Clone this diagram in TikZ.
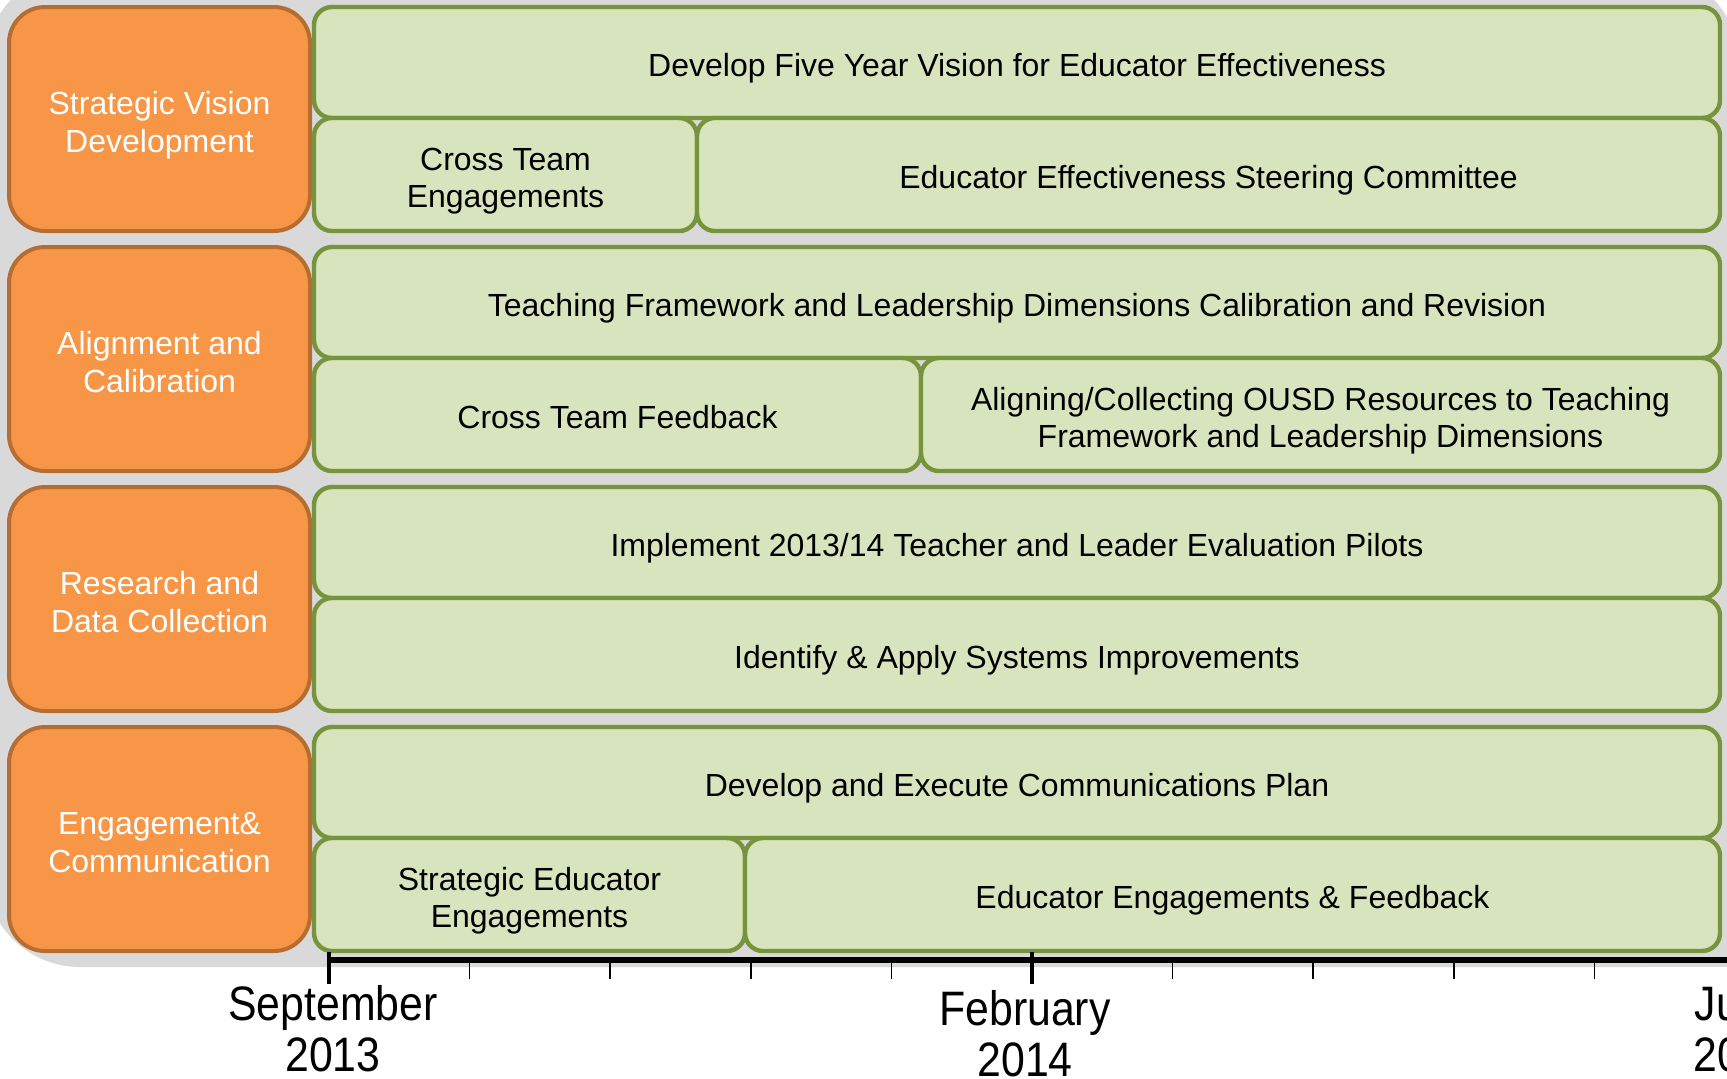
\documentclass[tikz,border=0pt]{standalone}
\usepackage{fontspec}
\setmainfont{Liberation Sans}
\definecolor{bggray}{HTML}{D9D9D9}
\definecolor{orfill}{HTML}{F79646}
\definecolor{ordraw}{HTML}{B66D31}
\definecolor{grfill}{HTML}{D7E4BD}
\definecolor{grdraw}{HTML}{77933C}
\newcommand\sx{\rule[-0.2em]{0pt}{1.3em}}
\newcommand\ex{\rule[-0.2em]{0pt}{0.5em}}
\begin{document}
\begin{tikzpicture}[x=0.5pt,y=-0.5pt,
  boxtext/.style={align=center, inner sep=0pt, font=\fontsize{16}{18.75}\selectfont},
  cat/.style={boxtext, draw=ordraw, fill=orfill, line width=2pt, rounded corners=18pt, text=white, minimum width=150.5pt, minimum height=112pt},
  task/.style={boxtext, draw=grdraw, fill=grfill, line width=2.2pt, rounded corners=9pt, text=black},
  full/.style={task, minimum width=703pt},
  tophalf/.style={minimum height=55.5pt},
  bothalf/.style={minimum height=56.5pt},
  majortick/.style={line width=2.2pt},
  minortick/.style={line width=0.8pt},
  axis/.style={line width=2.6pt},
  datelabel/.style={inner sep=0pt, font=\fontsize{21.4}{22.5}\selectfont}
]
\useasboundingbox (0,0) rectangle (1727,1078);
\clip (0,0) rectangle (1727,1078);
% gray backdrop
\fill[bggray, rounded corners=47.5pt] (-15,-30) rectangle (1740,967);
\fill[bggray] (1500,600) rectangle (1760,967);

% category boxes
\node[cat] (c1) at (159.5,119) {\sx Strategic Vision\\Development\ex};
\node[cat] (c2) at (159.5,359) {\sx Alignment and\\Calibration\ex};
\node[cat] (c3) at (159.5,599) {\sx Research and\\Data Collection\ex};
\node[cat] (c4) at (159.5,839) {\sx Engagement\&\\Communication\ex};

% row 1
\node[full, tophalf] (r1a) at (1017,62.5) {\sx Develop Five Year Vision for Educator Effectiveness};
\node[task, bothalf, minimum width=191.5pt] (r1b) at (505.5,174.5) {\sx Cross Team\\Engagements\ex};
\node[task, bothalf, minimum width=511.5pt] (r1c) at (1208.5,174.5) {\sx Educator Effectiveness Steering Committee};
% row 2
\node[full, tophalf] (r2a) at (1017,302.5) {\sx Teaching Framework and Leadership Dimensions Calibration and Revision};
\node[task, bothalf, minimum width=303.5pt] (r2b) at (617.5,414.5) {\sx Cross Team Feedback};
\node[task, bothalf, minimum width=399.5pt] (r2c) at (1320.5,414.5) {\sx Aligning/Collecting OUSD Resources to Teaching\\Framework and Leadership Dimensions\ex};
% row 3
\node[full, tophalf] (r3a) at (1017,542.5) {\sx Implement 2013/14 Teacher and Leader Evaluation Pilots};
\node[full, bothalf] (r3b) at (1017,654.5) {\sx Identify \& Apply Systems Improvements};
% row 4
\node[full, tophalf] (r4a) at (1017,782.5) {\sx Develop and Execute Communications Plan};
\node[task, bothalf, minimum width=215.5pt] (r4b) at (529.5,894.5) {\sx Strategic Educator\\Engagements\ex};
\node[task, bothalf, minimum width=487.5pt] (r4c) at (1232.5,894.5) {\sx Educator Engagements \& Feedback};

% timeline
\coordinate (t0) at (329,960);
\coordinate (tend) at (1760,960);
\draw[axis] (t0) -- (tend);
\foreach \i in {0,5,10}{
  \draw[majortick] (329+140.6*\i,952) -- (329+140.6*\i,984);
}
\foreach \i in {1,2,3,4,6,7,8,9}{
  \draw[minortick] (329+140.6*\i,960) -- (329+140.6*\i,979);
}
\node[datelabel] (sep) at (333,1036) {\scalebox{1}[1.13]{\begin{tabular}{@{}c@{}}September\\2013\end{tabular}}};
\node[datelabel] (feb) at (1025,1041) {\scalebox{1}[1.13]{\begin{tabular}{@{}c@{}}February\\2014\end{tabular}}};
\node[datelabel] (jun) at (1741,1036) {\scalebox{1}[1.13]{\begin{tabular}{@{}c@{}}June\\2014\end{tabular}}};
\end{tikzpicture}
\end{document}
